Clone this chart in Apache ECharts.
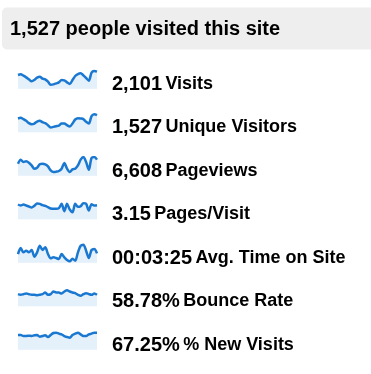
<!DOCTYPE html>
<html><head><meta charset="utf-8">
<script src="https://cdn.jsdelivr.net/npm/echarts@6/dist/echarts.min.js"></script>
<style>html,body{margin:0;padding:0;background:#fff;}#c{width:371px;height:374px;}</style>
</head><body><div id="c"></div>
<script>
const headerText = '1,527 people visited this site';
const days = ['1','2','3','4','5','6','7','8','9','10','11','12','13','14','15','16','17','18','19','20','21','22','23','24','25','26','27','28','29','30'];
const metricValues = ['2,101','1,527','6,608','3.15','00:03:25','58.78%','67.25%'];
const metricLabels = ['Visits','Unique Visitors','Pageviews','Pages/Visit','Avg. Time on Site','Bounce Rate','% New Visits'];

const visits = [80,82,78,73,67,61,65,72,75,69,67,60,51,52,55,58,65,64,58,53,65,77,83,85,79,71,63,87,92,90];
const uniqueVisitors = [60,62,58,53,46,43,45,51,53,49,46,40,33,35,37,39,45,45,40,36,45,57,61,60,58,50,45,67,73,70];
const pageviews = [240,288,260,268,252,220,180,192,232,240,232,208,160,140,144,152,180,248,180,140,172,180,220,288,320,260,168,308,320,288];
const pagesPerVisit = [3.30,3.21,3.30,3.21,3.12,3.03,3.18,3.39,3.36,3.24,3.18,3.06,2.94,2.91,2.91,2.97,3.36,2.70,3.36,2.85,2.61,3.36,3.09,3.15,3.42,3.36,2.76,3.33,3.21,3.24];
const avgTimeSec = [190,244,205,220,205,226,166,205,265,226,250,190,151,160,154,145,190,160,136,124,148,130,205,265,274,220,154,226,235,196];
const bounceRate = [57.8,56.8,57.8,58.8,57.8,56.8,56.8,56.3,56.8,57.8,60.3,56.8,57.8,61.8,60.3,60.3,58.8,61.8,63.8,61.8,60.3,59.3,56.8,55.3,57.8,59.3,57.8,56.8,58.8,56.8];
const newVisits = [67.25,67.25,65.75,65.75,66.25,65.75,66.75,67.25,64.75,65.75,66.75,64.25,67.25,70.25,70.75,69.25,68.25,65.75,64.25,63.25,67.25,69.25,70.75,68.25,65.75,65.75,68.25,69.25,70.75,70.75];

const seriesList = [visits, uniqueVisitors, pageviews, pagesPerVisit, avgTimeSec, bounceRate, newVisits];
const axisMin = [39, 19, 96, 1.98, 112, 39.78, 45.25];
const axisMax = [95, 75, 320, 3.66, 280, 67.78, 73.25];

const chart = echarts.init(document.getElementById('c'), null, {renderer:'canvas'});
const rowStep = 43.5;
const grids = [], xAxes = [], yAxes = [], series = [];
const graphics = [
  {type:'rect', shape:{x:2, y:7.5, width:390, height:42, r:5}, style:{fill:'#eeeeee'}, silent:true},
  {type:'text', x:10, y:29.5, style:{text:headerText, fill:'#000', font:'bold 20px "Liberation Sans", Arial, sans-serif', textVerticalAlign:'middle'}}
];
seriesList.forEach((d, i) => {
  grids.push({left:18, width:79, top:70 + i*rowStep, height:18.7, containLabel:false});
  xAxes.push({type:'category', gridIndex:i, data:days, boundaryGap:false, show:false});
  yAxes.push({type:'value', gridIndex:i, min:axisMin[i], max:axisMax[i], show:false});
  series.push({type:'line', xAxisIndex:i, yAxisIndex:i, data:d, symbol:'none', silent:true, smooth:0.3,
    lineStyle:{color:'#1a78d0', width:2.5}, areaStyle:{color:'#e4f0fa', opacity:1}, animation:false});
  graphics.push({type:'text', x:112, y:84 + i*rowStep, style:{
    text:'{n|' + metricValues[i] + '} {l|' + metricLabels[i] + '}',
    textVerticalAlign:'middle',
    rich:{
      n:{font:'bold 20px "Liberation Sans", Arial, sans-serif', fill:'#000', lineHeight:22},
      l:{font:'bold 18px "Liberation Sans", Arial, sans-serif', fill:'#000', lineHeight:22}
    }
  }});
});
chart.setOption({
  animation:false,
  grid:grids, xAxis:xAxes, yAxis:yAxes, series:series, graphic:graphics
});
</script></body></html>
